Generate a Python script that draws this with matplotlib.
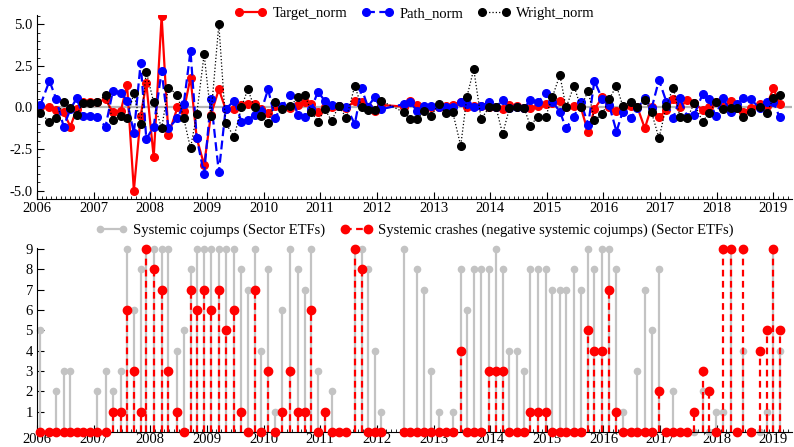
import numpy as np
import matplotlib
matplotlib.use("Agg")
import matplotlib.pyplot as plt
from matplotlib.ticker import MultipleLocator
from matplotlib.lines import Line2D

plt.rcParams['font.family'] = ['Liberation Serif', 'DejaVu Serif']
plt.rcParams['axes.unicode_minus'] = False

# observation dates (decimal years)
dates = [2006.06, 2006.22, 2006.34, 2006.47, 2006.59, 2006.70, 2006.81, 2006.93,
         2007.06, 2007.21, 2007.34, 2007.48, 2007.59, 2007.71, 2007.83, 2007.93,
         2008.06, 2008.20, 2008.32, 2008.48, 2008.59, 2008.71, 2008.82, 2008.95,
         2009.07, 2009.21, 2009.33, 2009.48, 2009.61, 2009.72, 2009.84, 2009.96,
         2010.08, 2010.20, 2010.33, 2010.47, 2010.61, 2010.73, 2010.84, 2010.96,
         2011.08, 2011.20, 2011.33, 2011.46, 2011.61, 2011.73, 2011.84, 2011.96,
         2012.08, 2012.48, 2012.59, 2012.71, 2012.83, 2012.96,
         2013.09, 2013.22, 2013.34, 2013.48, 2013.59, 2013.71, 2013.84, 2013.98,
         2014.10, 2014.22, 2014.34, 2014.48, 2014.60, 2014.71, 2014.84, 2014.98,
         2015.10, 2015.23, 2015.34, 2015.48, 2015.60, 2015.73, 2015.84, 2015.98,
         2016.10, 2016.23, 2016.34, 2016.48, 2016.60, 2016.73, 2016.85, 2016.98,
         2017.11, 2017.23, 2017.35, 2017.48, 2017.60, 2017.75, 2017.86, 2017.98,
         2018.11, 2018.25, 2018.36, 2018.47, 2018.60, 2018.76, 2018.88, 2019.00,
         2019.11]

target_norm = [0.0, 0.05, -0.15, -0.3, -1.15, -0.1, 0.3, 0.3, 0.3, 0.5,
               -0.3, -0.2, 1.35, -5.0, -0.5, 1.45, -3.0, 5.5, -1.65, 0.0,
               -0.2, 1.8, -1.85, -3.45, -0.45, 1.1, -0.1, -0.1, 0.15, 0.2,
               0.2, -0.1, -0.35, 0.1, 0.0, -0.05, 0.15, 0.3, 0.2, -0.25,
               0.0, 0.0, 0.1, -0.05, 0.4, 0.3, 0.0, -0.2, 0.15,
               0.05, 0.4, 0.15, 0.05, 0.05, 0.0, 0.1, 0.15, 0.35, 0.0,
               0.1, 0.1, 0.0, 0.05, -0.1, 0.15, 0.1, -0.05, -0.05, 0.1,
               0.2, 0.25, 0.4, 0.0, 0.1, 0.0, -1.5, -0.1, 0.6, 0.0,
               -0.2, 0.05, 0.1, 0.0, -1.25, 0.05, -0.6, -0.15, 0.5, 0.0,
               0.45, 0.25, -0.15, 0.0, 0.3, 0.0, 0.4, -0.05, -0.25, -0.05,
               0.2, 0.1, 1.15, 0.2]

path_norm = [0.15, 1.6, 0.5, -1.15, -0.1, 0.55, -0.5, -0.5, -0.55, -1.15,
             1.0, 0.9, 0.4, -1.55, 2.7, -1.9, -1.15, 2.2, -1.25, -0.65,
             0.2, 3.4, -1.85, -4.0, 0.5, -3.9, -0.1, 0.4, -0.85, -0.75,
             -0.45, -0.2, 1.1, -0.65, 0.1, 0.75, -0.45, -0.6, -0.1, 0.95,
             0.4, 0.15, 0.1, 0.05, -1.0, 1.15, 0.05, 0.6, -0.1,
             0.2, 0.3, -0.2, 0.1, 0.1, 0.0, 0.0, 0.0, 0.35, 0.2,
             0.0, 0.1, 0.3, 0.0, 0.45, -0.05, 0.0, -0.05, 0.45, 0.3,
             0.85, 0.35, -0.25, -1.25, -0.55, 0.35, -1.05, 1.6, 0.5, 0.15,
             -1.45, -0.25, -0.65, -0.05, 0.55, -0.05, 1.65, 0.35, -0.65, 0.55,
             -0.55, -0.45, 0.8, 0.5, -0.5, 0.55, -0.25, 0.2, 0.55, 0.5,
             -0.05, 0.35, 0.35, -0.6]

wright_norm = [-0.35, -0.85, -0.65, 0.3, -0.05, -0.45, 0.25, 0.25, 0.3, 0.75,
               -0.75, -0.5, -0.65, 0.85, -1.0, 2.15, 0.3, -1.25, 1.2, 0.75,
               -0.65, -2.45, -0.4, 3.2, -0.5, 5.0, -0.95, -1.75, 0.0, 1.1,
               0.0, -0.5, -0.95, 0.3, -0.1, 0.1, 0.6, 0.75, -0.25, -0.85,
               -0.1, -0.8, 0.1, -0.65, 1.3, 0.05, -0.15, -0.15, 0.4,
               -0.3, -0.7, -0.7, -0.2, -0.5, 0.2, -0.35, -0.3, -2.3, 0.65,
               2.3, -0.7, 0.0, 0.05, -1.6, -0.05, 0.0, -0.05, -1.1, -0.55,
               -0.55, 0.65, 1.95, 0.0, 1.3, 0.0, 1.0, -0.75, -0.4, 0.5,
               1.3, 0.1, 0.35, 0.0, 0.45, -0.3, -1.85, 0.1, 1.2, -0.55,
               -0.65, 0.25, -0.85, -0.35, 0.3, -0.1, -0.05, -0.05, -0.55, -0.25,
               0.05, -0.35, 0.55, 0.75]

cojumps = [5, 0, 2, 3, 3, 0, 0, 0, 2, 3,
           2, 3, 9, 6, 8, 9, 9, 9, 9, 4,
           5, 8, 9, 9, 9, 9, 9, 9, 8, 7,
           9, 4, 8, 1, 6, 9, 8, 7, 9, 3,
           1, 2, 0, 0, 9, 9, 8, 4, 1,
           9, 0, 8, 7, 3, 1, 0, 1, 8, 6,
           8, 8, 8, 9, 8, 4, 4, 3, 8, 8,
           8, 7, 7, 7, 8, 7, 9, 8, 9, 9,
           8, 1, 0, 3, 7, 5, 8, 0, 2, 0,
           0, 0, 2, 0, 1, 1, 9, 0, 4, 0,
           0, 1, 9, 4]

crashes = [0, 0, 0, 0, 0, 0, 0, 0, 0, 0,
           1, 1, 6, 3, 1, 9, 8, 7, 3, 1,
           0, 7, 6, 7, 6, 7, 5, 6, 1, 0,
           7, 0, 3, 0, 1, 3, 1, 1, 6, 0,
           1, 0, 0, 0, 9, 8, 0, 0, 0,
           0, 0, 0, 0, 0, 0, 0, 0, 4, 0,
           0, 0, 3, 3, 3, 0, 0, 0, 1, 1,
           1, 0, 0, 0, 0, 0, 5, 4, 4, 7,
           1, 0, 0, 0, 0, 0, 2, 0, 0, 0,
           0, 1, 3, 2, 0, 9, 9, 0, 9, 0,
           4, 5, 9, 5]

years = list(range(2006, 2020))

gray = '#c3c3c3'

fig = plt.figure(figsize=(7.94, 4.47), dpi=100)
ax1 = fig.add_axes([0.0466, 0.555, 0.951, 0.411])
ax2 = fig.add_axes([0.0466, 0.034, 0.951, 0.411])

# ---- top panel
ax1.axhline(0, color='#b4b4b4', lw=1.6, zorder=0)
ax1.plot(dates, target_norm, color='red', lw=1.6, marker='o', ms=5.5,
         label='Target_norm')
ax1.plot(dates, path_norm, color='blue', lw=1.6, ls=(0, (4, 2)), marker='o',
         ms=5.5, label='Path_norm')
ax1.plot(dates, wright_norm, color='black', lw=0.9, ls=':', marker='o',
         ms=5.5, label='Wright_norm')
ax1.set_ylim(-5.5, 5.55)
ax1.set_yticks([-5.0, -2.5, 0.0, 2.5, 5.0])
ax1.set_yticklabels(['-5.0', '-2.5', '0.0', '2.5', '5.0'])
ax1.yaxis.set_minor_locator(MultipleLocator(0.5))
ax1.legend(loc='center', bbox_to_anchor=(0.5, 1.01), ncol=3, frameon=False,
           numpoints=2, fontsize=10.5, handlelength=2.2, handletextpad=0.4,
           columnspacing=1.0, borderaxespad=0)

# ---- bottom panel
ml, sl, bl = ax2.stem(dates, cojumps, linefmt='-', markerfmt='o', basefmt=' ')
plt.setp(sl, color=gray, lw=1.6)
plt.setp(ml, color=gray, ms=4.5, clip_on=False)
ml2, sl2, bl2 = ax2.stem(dates, crashes, linefmt='--', markerfmt='o', basefmt=' ')
plt.setp(sl2, color='red', lw=1.6, linestyle=(0, (3, 2)))
plt.setp(ml2, color='red', ms=6, clip_on=False, zorder=4)
ax2.set_ylim(0, 9.05)
ax2.set_yticks(range(1, 10))

handles = [Line2D([], [], color=gray, lw=1.6, marker='o', ms=4.5),
           Line2D([], [], color='red', lw=1.6, ls=(0, (3, 2)), marker='o', ms=6)]
labels = ['Systemic cojumps (Sector ETFs)',
          'Systemic crashes (negative systemic cojumps) (Sector ETFs)']
ax2.legend(handles, labels, loc='center', bbox_to_anchor=(0.5, 1.095), ncol=2,
           frameon=False, numpoints=2, fontsize=10.5, handlelength=2.2,
           handletextpad=0.4, columnspacing=1.0, borderaxespad=0)

for ax in (ax1, ax2):
    ax.set_xlim(2006.0, 2019.33)
    ax.set_xticks(years)
    ax.set_xticklabels([str(y) for y in years])
    ax.xaxis.set_minor_locator(MultipleLocator(1 / 12))
    ax.spines['top'].set_visible(False)
    ax.spines['right'].set_visible(False)
    ax.tick_params(which='both', direction='in', labelsize=10.5)
    ax.tick_params(which='major', length=5)
    ax.tick_params(which='minor', length=2.5)
    ax.tick_params(axis='x', pad=2)
    ax.tick_params(axis='y', pad=3)

ax2.tick_params(axis='x', pad=1)

fig.savefig('out.png', dpi=100)
